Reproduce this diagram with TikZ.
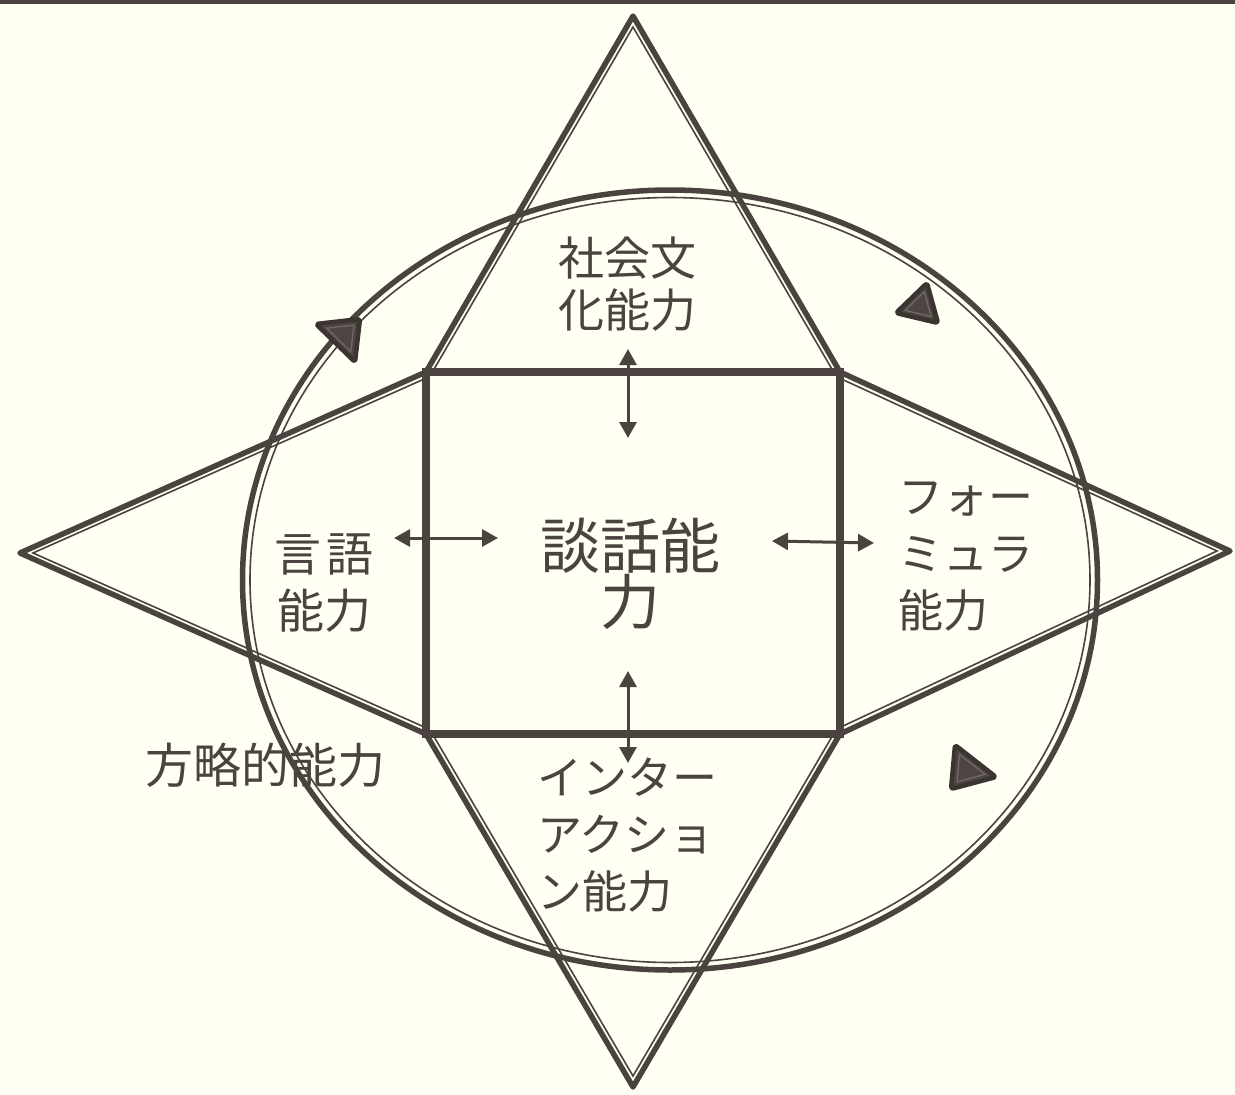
\documentclass[tikz,border=0pt]{standalone}
\usepackage{fontspec}
\newfontfamily\jp{Noto Sans CJK JP}
\usetikzlibrary{arrows.meta,calc}
\definecolor{bg}{RGB}{255,255,243}
\definecolor{ink}{RGB}{74,67,63}
\definecolor{headdark}{RGB}{59,52,49}
\definecolor{headfill}{RGB}{76,69,66}
\definecolor{headline}{RGB}{112,105,101}
\tikzset{
  outerline/.style={draw=ink, line width=5.5pt, line join=round, line cap=round},
  innerline/.style={draw=ink, line width=1.6pt},
  rectline/.style={draw=ink, line width=8pt, line join=miter},
  lbl/.style={text=ink, inner sep=0pt, font=\jp, align=center},
  twoway/.style={draw=ink, line width=3pt, {Triangle[length=16pt,width=17pt]}-{Triangle[length=16pt,width=17pt]}},
  headtri/.style={draw=headdark, fill=headfill, line width=4.5pt, rounded corners=2.5pt, line join=round},
  headin/.style={draw=headline, line width=1.3pt}
}
\begin{document}
\begin{tikzpicture}[x=1pt,y=-1pt]
\fill[bg] (0,0) rectangle (1235,1095);
\useasboundingbox (0,0) rectangle (1235,1095);
% top border
\draw[draw=ink, line width=3.5pt] (0,2) -- (1235,2);

% key points
\coordinate (TL) at (426,372);
\coordinate (TR) at (840,372);
\coordinate (BR) at (840,734);
\coordinate (BL) at (426,734);
\coordinate (AT) at (633,16);
\coordinate (AB) at (633,1087);
\coordinate (AL) at (20,553);
\coordinate (AR) at (1230,551);

% labels (drawn first, lines run over them)
\node[lbl, font=\jp\fontsize{46}{52}\selectfont] (soc) at (627,284) {社会文\\化能力};
\node[lbl, font=\jp\fontsize{60}{54}\selectfont] (dis) at (630,574) {談話能\\力};
\node[lbl, font=\jp\fontsize{47}{57}\selectfont] (lin) at (324,583) {言\hspace{6pt}語\\能力};
\node[lbl, anchor=west, align=left, font=\jp\fontsize{45}{57}\selectfont] (form) at (898,557) {フォー\\ミュラ\\能力};
\node[lbl, anchor=west, align=left, font=\jp\fontsize{45}{57}\selectfont] (inter) at (537,835) {インター\\アクショ\\ン能力};
\node[lbl, font=\jp\fontsize{48}{48}\selectfont] (strat) at (265,765) {方略的能力};

% circle (ellipse), thick outer + thin inner
\draw[draw=ink, line width=5.5pt] (670,580) ellipse [x radius=427.5, y radius=390];
\draw[draw=ink, line width=1.6pt] (670,580) ellipse [x radius=420, y radius=382.5];

% outer thick triangles
\draw[outerline] (TL) -- (AT) -- (TR);
\draw[outerline] (BL) -- (AB) -- (BR);
\draw[outerline] (TL) -- (AL) -- (BL);
\draw[outerline] (TR) -- (AR) -- (BR);

% inner thin lines, clipped outside the square
\begin{scope}
\clip (0,0) -- (0,1095) -- (1235,1095) -- (1235,0) -- cycle
      (423,369) -- (843,369) -- (843,737) -- (423,737) -- cycle;
\draw[innerline] (426,383) -- (633,27) -- (840,383);
\draw[innerline] (426,723) -- (633,1076) -- (840,723);
\draw[innerline] (440,372) -- (33,553) -- (440,734);
\draw[innerline] (826,372) -- (1217,551) -- (826,734);
\end{scope}

% square
\draw[rectline] (TL) rectangle (BR);

% two-way arrows
\coordinate (a1) at (628,349); \coordinate (a2) at (628,438);
\coordinate (b1) at (628,671); \coordinate (b2) at (628,763);
\coordinate (c1) at (394,538); \coordinate (c2) at (498,538);
\coordinate (d1) at (772,541); \coordinate (d2) at (874,543);
\draw[twoway] (a1) -- (a2);
\draw[twoway] (b1) -- (b2);
\draw[twoway] (c1) -- (c2);
\draw[twoway] (d1) -- (d2);

% arrowheads on the circle
\draw[headtri] (316,324) -- (360,319) -- (355,362) -- cycle;
\draw[headin] ($(344,335)!0.62!(316,324)$) -- ($(344,335)!0.62!(360,319)$) -- ($(344,335)!0.62!(355,362)$) -- cycle;
\draw[headtri] (927,283) -- (896,313) -- (938,323) -- cycle;
\draw[headin] ($(920,306)!0.62!(927,283)$) -- ($(920,306)!0.62!(896,313)$) -- ($(920,306)!0.62!(938,323)$) -- cycle;
\draw[headtri] (955,745) -- (951,789) -- (996,777) -- cycle;
\draw[headin] ($(967,770)!0.62!(955,745)$) -- ($(967,770)!0.62!(951,789)$) -- ($(967,770)!0.62!(996,777)$) -- cycle;
\end{tikzpicture}
\end{document}
